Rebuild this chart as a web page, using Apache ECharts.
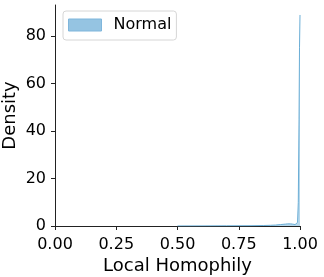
<!DOCTYPE html>
<html>
<head>
<meta charset="utf-8">
<script src="https://cdn.jsdelivr.net/npm/echarts@6/dist/echarts.min.js"></script>
<style>html,body{margin:0;padding:0;background:#fff;}#c{width:324px;height:277px;}</style>
</head>
<body>
<div id="c"></div>
<script>
const seriesName = "Normal";
const xValues = [0.50, 0.60, 0.70, 0.80, 0.85, 0.88, 0.90, 0.92, 0.94, 0.95, 0.96, 0.97, 0.98, 0.985, 0.99, 0.993, 0.996, 0.998, 1.0];
const densityValues = [0.02, 0.05, 0.08, 0.12, 0.2, 0.3, 0.4, 0.6, 0.8, 0.9, 0.9, 0.8, 0.6, 0.6, 1.5, 10, 45, 75, 88.8];
const xTicks = [0, 0.25, 0.5, 0.75, 1.0];
const yTicks = [0, 20, 40, 60, 80];

const chart = echarts.init(document.getElementById('c'), null, {renderer: 'canvas'});
const font = 'DejaVu Sans';
chart.setOption({
  animation: false,
  grid: {left: 55, right: 24, top: 5, bottom: 51, containLabel: false, outerBoundsMode: 'none'},
  legend: {
    show: true,
    left: 63, top: 11,
    padding: [6, 5, 7, 5],
    itemWidth: 33, itemHeight: 12, itemGap: 0,
    borderColor: '#d6d6d6', borderWidth: 1, borderRadius: 3,
    textStyle: {fontFamily: font, fontSize: 16, color: '#000', padding: [0, 0, 0, 7]},
    data: [{name: seriesName, icon: 'rect', itemStyle: {color: '#95c4e2', borderColor: '#7fb6dc', borderWidth: 1}}]
  },
  xAxis: {
    type: 'value', min: 0, max: 1, interval: 0.25,
    name: 'Local Homophily', nameLocation: 'middle', nameGap: 31, nameMoveOverlap: false,
    nameTextStyle: {fontFamily: font, fontSize: 18, color: '#000'},
    axisLine: {show: true, lineStyle: {color: '#222', width: 1}},
    axisTick: {show: true, length: 4, lineStyle: {color: '#222'}},
    axisLabel: {fontFamily: font, fontSize: 16, color: '#000', margin: 11,
      formatter: v => xTicks.includes(v) ? v.toFixed(2) : ''},
    splitLine: {show: false}
  },
  yAxis: {
    type: 'value', min: 0, max: 93, interval: 20,
    name: 'Density', nameLocation: 'middle', nameGap: 36, nameRotate: 90, nameMoveOverlap: false,
    nameTextStyle: {fontFamily: font, fontSize: 18, color: '#000'},
    axisLine: {show: true, lineStyle: {color: '#222', width: 1}},
    axisTick: {show: true, length: 4, lineStyle: {color: '#222'}},
    axisLabel: {fontFamily: font, fontSize: 16, color: '#000', margin: 9, showMaxLabel: false,
      formatter: v => yTicks.includes(v) ? String(v) : ''},
    splitLine: {show: false}
  },
  series: [{
    name: seriesName, type: 'line', showSymbol: false, smooth: false,
    data: xValues.map((x, i) => [x, densityValues[i]]),
    lineStyle: {color: '#6baed6', width: 1},
    itemStyle: {color: '#95c4e2'},
    areaStyle: {color: 'rgba(107,174,214,0.7)'}
  }]
});
</script>
</body>
</html>
